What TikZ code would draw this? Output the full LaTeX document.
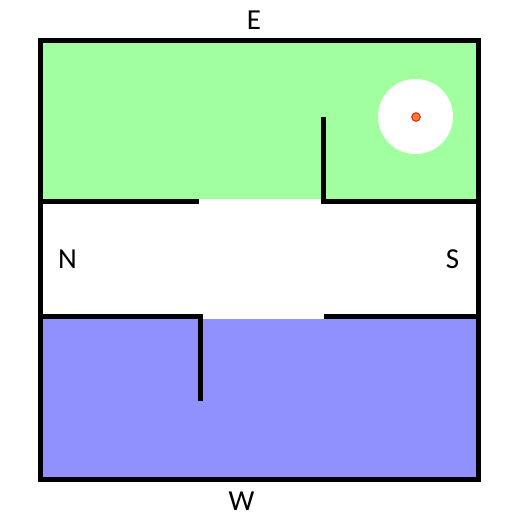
\documentclass[tikz,border=0pt]{standalone}
\usepackage{fontspec}
\setmainfont{Carlito}
\definecolor{roomgreen}{RGB}{162,255,160}
\definecolor{roomblue}{RGB}{144,144,255}
\definecolor{dotorange}{RGB}{255,127,39}
\definecolor{dotred}{RGB}{237,28,36}
\begin{document}
\begin{tikzpicture}[x=1pt, y=-1pt, font=\fontsize{29}{29}\selectfont,
                    wall/.style={line width=5pt}]
                    \useasboundingbox (0,0) rectangle (530,530);

                    % rooms
                    \fill[roomgreen] (40,40) rectangle (478,199);
                    \fill[roomblue] (40,319) rectangle (478,479);
                    \fill[white] (415.5,116.5) circle (37.5);
                    \filldraw[fill=dotorange, draw=dotred, line width=1pt] (416,117) circle (4.3);

                    % walls
                    \draw[wall] (40.5,40.5) rectangle (478.5,479.5);
                    \draw[wall] (40,201.5) -- (199,201.5);
                    \draw[wall] (323.5,117) -- (323.5,201.5) -- (478,201.5);
                    \draw[wall] (40,316.5) -- (200.5,316.5) -- (200.5,401);
                    \draw[wall] (324,316.5) -- (478,316.5);

                    % compass labels
                    \node (east) at (254,20.5) {E};
                    \node (west) at (241.5,501.5) {W};
                    \node (north) at (67.6,259) {N};
                    \node (south) at (452.5,259) {S};
                \end{tikzpicture}
\end{document}
